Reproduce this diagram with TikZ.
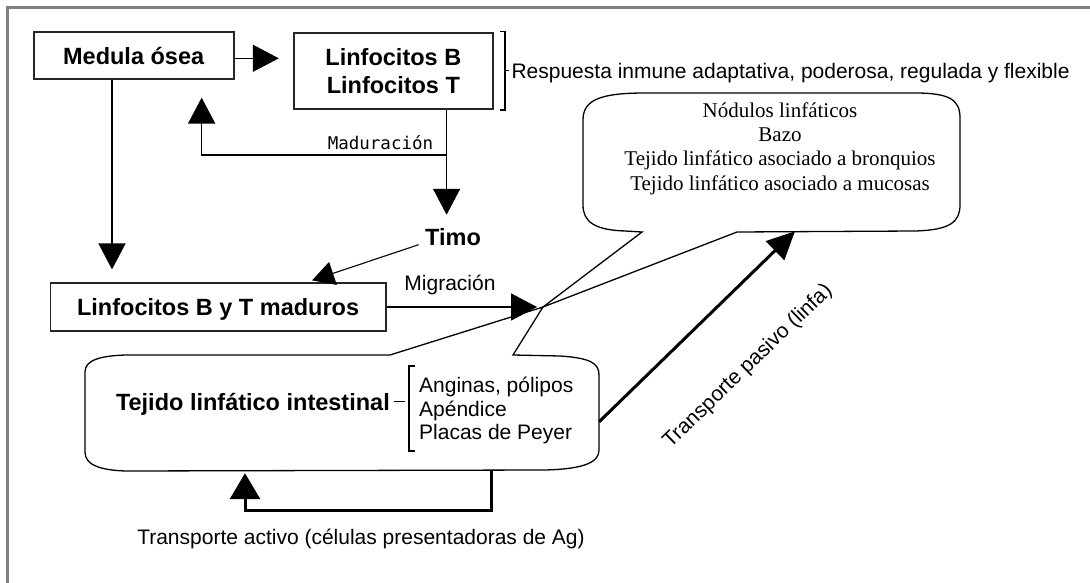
\documentclass[tikz,border=0pt]{standalone}
\usepackage{fontspec}
\setmainfont{Liberation Sans}
\newfontfamily\serifface{Liberation Serif}
\newfontfamily\monoface{DejaVu Sans Mono}
\usetikzlibrary{arrows.meta,calc}
\tikzset{
  frameline/.style={draw=black!50, line width=2.6pt},
  box/.style={draw=black!85, line width=1.8pt, inner sep=0pt,
    font=\fontsize{23.5}{28.3}\selectfont\bfseries},
  bt/.style={font=\fontsize{23.5}{28.3}\selectfont\bfseries, text height=16.8pt, text depth=0pt},
  rt/.style={font=\fontsize{21}{24}\selectfont, text height=15pt, text depth=0pt},
  mt/.style={font=\fontsize{17.5}{20}\selectfont\monoface, text height=12.8pt, text depth=0pt},
  st/.style={font=\fontsize{21}{24.3}\selectfont\serifface, align=center},
  thinline/.style={draw=black, line width=1.3pt},
  arr/.style={draw=black, line width=1.5pt, -{Triangle[length=26pt,width=27pt]}},
  smallarr/.style={draw=black, line width=1.1pt, -{Triangle[length=22pt,width=24pt]}},
  heavyarr/.style={draw=black, line width=3pt, -{Triangle[length=28pt,width=26pt]}},
  heavyline/.style={draw=black, line width=3pt},
  callout/.style={draw=black, line width=1.3pt},
}
\begin{document}
\begin{tikzpicture}[x=1pt,y=-1pt]
\fill[white] (0,0) rectangle (1090,583);
\useasboundingbox (0,0) rectangle (1090,583);

% page frame
\draw[frameline] (7.5,583) -- (7.5,7.5) -- (1090,7.5);

% main boxes
\node[box, minimum width=200pt, minimum height=47.6pt] (medula) at (133.65,55.5) {Medula ósea};
\node[box, minimum width=199.3pt, minimum height=76.3pt, align=center] (linf) at (393.35,70.85) {Linfocitos B\\Linfocitos T};
\node[box, minimum width=335.4pt, minimum height=47.4pt, text height=16.8pt, text depth=0pt] (maduros) at (218.1,307) {Linfocitos B y T maduros};
\node[bt] (timo) at (453,236.7) {Timo};

% bracket with the description of the lymphocytes
\draw[thinline] ([xshift=6pt]linf.north east) -- ++(5,0) -- ([xshift=11pt]linf.south east) -- ++(-5,0);
\draw[thinline] ([xshift=11pt]linf.east) -- ++(4,0) node[rt, right, inner sep=2pt] (resp) {Respuesta inmune adaptativa, poderosa, regulada y flexible};

% medula -> lymphocytes
\coordinate (m2) at ([yshift=-2.8pt]medula.east);
\draw[arr, shorten >=14pt] (m2) -- (m2 -| linf.west);

% lymphocytes -> thymus, with the maturation branch back to the marrow
\coordinate (down) at ([xshift=53.25pt]linf.south);
\coordinate (br) at ($(down)+(0,45)$);
\draw[arr, shorten >=10pt] (down) -- (down |- timo.north);
\draw[arr] (br) -| ([xshift=68pt,yshift=-17.4pt]medula.south);
\node[mt] (madlabel) at (380.5,143.3) {Maduración};

% marrow -> mature lymphocytes
\coordinate (m1) at ([xshift=-21.65pt]medula.south);
\draw[arr, shorten >=13pt] (m1) -- (m1 |- maduros.north);

% thymus -> mature lymphocytes
\draw[smallarr] ([xshift=-3pt,yshift=-8pt]timo.west) -- ([xshift=94pt,yshift=2pt]maduros.north);

% common tip of both callout tails
\coordinate (T) at (543,307);

% migration
\draw[arr, shorten >=6pt] (maduros.east) -- (maduros.east -| T);
\node[rt] (migr) at (450,283.3) {Migración};

% anchoring frames of the two callouts
\node[minimum width=377pt, minimum height=138pt, inner sep=0pt] (c1) at (771.5,162) {};
\node[minimum width=514pt, minimum height=116pt, inner sep=0pt] (c2) at (342,413) {};

% upper callout: secondary lymphoid organs
\draw[callout] (583,120) .. controls (583,100) and (600,93) .. (645,93) -- (915,93)
  .. controls (950,93) and (960,100) .. (960,118) -- (960,205)
  .. controls (960,222) and (950,230) .. (915,231) -- (737,232) -- (T) -- (642,232) -- (625,231)
  .. controls (595,230) and (583,222) .. (583,205) -- cycle;
\node[st] (c1text) at (780,148.5) {Nódulos linfáticos\\Bazo\\Tejido linfático asociado a bronquios\\Tejido linfático asociado a mucosas};

% lower callout: intestinal lymphoid tissue
\draw[callout] (85,372) .. controls (85,360) and (100,356) .. (125,355) -- (390,355) -- (T) -- (513,355) -- (560,356)
  .. controls (590,358) and (599,363) .. (599,375) -- (599,450)
  .. controls (599,462) and (585,469) .. (545,470) -- (125,471)
  .. controls (100,470) and (85,465) .. (85,452) -- cycle;
\node[bt] (tli) at (252.9,401.7) {Tejido linfático intestinal};
\draw[thinline] (394,401.7) -- (405,401.7);
\draw[thinline] (415,366) -- (409,366) -- (409,451) -- (415,451);
\node[font=\fontsize{21}{23.7}\selectfont, align=left, anchor=west, inner sep=0pt] (items) at (419,410.6) {Anginas, pólipos\\Apéndice\\Placas de Peyer};

% passive transport
\draw[heavyarr] ([yshift=-8.7pt]c2.east) -- ([xshift=23.5pt]c1.south);
\node[rt, rotate=44] (pasivo) at (746.5,365) {Transporte pasivo (linfa)};

% active transport loop
\draw[heavyline, -{Triangle[length=26pt,width=30pt]}] ([xshift=149.7pt]c2.south) -- ++(0,39) -| ([xshift=-97pt,yshift=-2pt]c2.south);
\node[rt] (activo) at (361,536.7) {Transporte activo (células presentadoras de Ag)};
\end{tikzpicture}
\end{document}
